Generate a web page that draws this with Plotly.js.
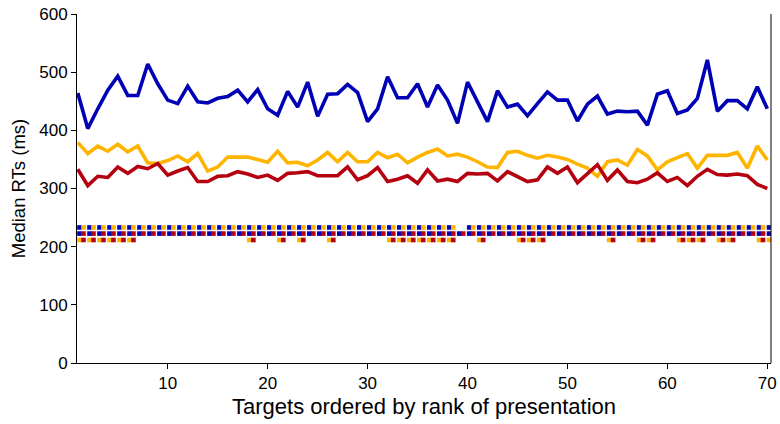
<!DOCTYPE html>
<html>
<head>
<meta charset="utf-8">
<script src="https://cdn.plot.ly/plotly-3.0.1.min.js"></script>
<style>html,body{margin:0;padding:0;background:#fff;}#chart{width:780px;height:424px;}</style>
</head>
<body>
<div id="chart"></div>
<script>
var targets = [];
for (var i = 1; i <= 70; i++) targets.push(i);

var blueRT = [464,403,437,469,493,460,460,514,480,452,446,476,449,447,455,458,469,449,470,437,
  426,467,440,483,424,462,463,479,465,415,437,492,456,456,480,440,478,452,412,483,
  449,415,468,440,445,425,446,466,452,452,416,445,459,428,433,432,433,409,462,468,
  429,435,455,521,433,451,451,437,475,437];
var orangeRT = [379,360,373,364,376,363,373,344,343,348,356,346,360,330,337,354,354,354,350,345,
  364,344,345,339,349,362,346,362,346,346,362,353,359,344,354,362,368,356,359,354,
  346,337,336,362,364,357,352,357,354,350,342,335,321,346,349,340,367,356,332,346,
  353,360,335,357,357,357,362,335,373,349];
var redRT = [333,305,321,319,337,326,338,334,343,323,330,336,312,312,321,322,329,325,319,323,
  314,326,327,329,322,322,322,337,315,322,336,312,316,322,309,332,313,316,312,326,
  325,326,313,329,321,312,315,337,326,337,310,326,341,314,332,312,310,316,327,312,
  319,305,321,333,324,323,325,322,307,300];

// significant pairwise differences per target
var sigBlueOrange = targets.filter(function(t){ return t !== 39; });
var sigBlueRed = targets.slice();
var sigOrangeRed = [1,2,3,4,5,6,18,21,23,26,32,33,34,35,36,37,38,41,45,46,47,54,57,58,61,62,63,65,66,69,70];

var BLUE = '#0000b4', ORANGE = '#ffb400', RED = '#b4000f';

function lineTrace(y, c) {
  return {x: targets, y: y, type: 'scatter', mode: 'lines', line: {color: c, width: 3.6}, hoverinfo: 'skip'};
}
function sqTrace(xs, off, yv, c) {
  return {x: xs.map(function(t){ return t + off; }), y: xs.map(function(){ return yv; }),
    type: 'scatter', mode: 'markers', marker: {symbol: 'square', size: 4.6, color: c}, hoverinfo: 'skip'};
}

var data = [
  lineTrace(blueRT, BLUE), lineTrace(orangeRT, ORANGE), lineTrace(redRT, RED),
  sqTrace(sigBlueOrange, 0.17, 233, BLUE), sqTrace(sigBlueOrange, 0.57, 233, ORANGE),
  sqTrace(sigBlueRed, 0.17, 222.5, BLUE), sqTrace(sigBlueRed, 0.57, 222.5, RED),
  sqTrace(sigOrangeRed, 0.17, 211.5, ORANGE), sqTrace(sigOrangeRed, 0.57, 211.5, RED)
];

var layout = {
  width: 780, height: 424,
  margin: {l: 77, r: 9, t: 14, b: 61},
  paper_bgcolor: '#fff', plot_bgcolor: '#fff',
  showlegend: false,
  font: {family: 'Liberation Sans, Arial, sans-serif', color: '#000'},
  xaxis: {
    range: [0.92, 70.37], showgrid: false, zeroline: false,
    showline: true, linecolor: '#000', linewidth: 1,
    ticks: 'outside', ticklen: 5, tickcolor: '#000',
    tickvals: [10,20,30,40,50,60,70], tickfont: {size: 17},
    title: {text: 'Targets ordered by rank of presentation', font: {size: 22}, standoff: 6}
  },
  yaxis: {
    range: [0, 600], showgrid: false, zeroline: false,
    showline: true, linecolor: '#000', linewidth: 1,
    ticks: 'outside', ticklen: 5, tickcolor: '#000',
    tickvals: [0,100,200,300,400,500,600], tickfont: {size: 17},
    title: {text: 'Median RTs (ms)', font: {size: 18.5}, standoff: 8}
  },
  shapes: [{type: 'line', xref: 'paper', yref: 'paper', x0: 1, x1: 1, y0: 0, y1: 1, line: {color: '#000', width: 1}}]
};

Plotly.newPlot('chart', data, layout, {displayModeBar: false, staticPlot: true});
</script>
</body>
</html>
